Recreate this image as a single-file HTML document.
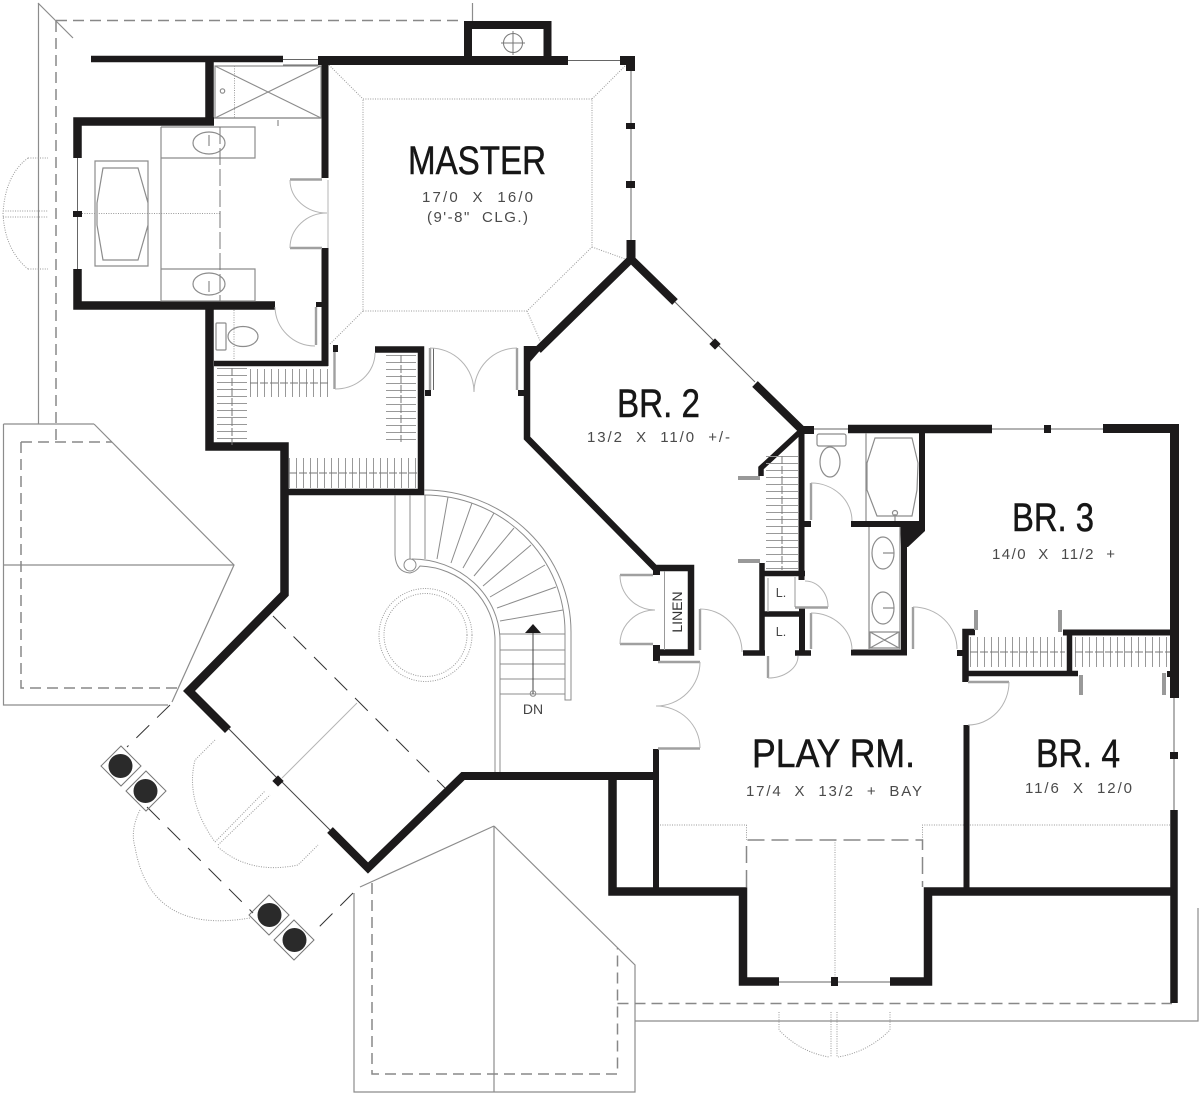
<!DOCTYPE html>
<html><head><meta charset="utf-8"><style>
html,body{margin:0;padding:0;background:#fff}
svg{display:block}
.w{fill:none;stroke:#1c1a1b;stroke-linejoin:miter;stroke-miterlimit:10}
.g{fill:none;stroke:#8c8c8c;stroke-width:1.2}
.d{fill:none;stroke:#888;stroke-width:1.5;stroke-dasharray:11 6}
.t{fill:none;stroke:#666;stroke-width:1}
.o{fill:none;stroke:#999;stroke-width:1;stroke-dasharray:1 1.4}
.a{fill:none;stroke:#b4b4b4;stroke-width:1}
.s{fill:none;stroke:#a0a0a0;stroke-width:2.4}
.h{fill:none;stroke:#999;stroke-dasharray:1 6}
.r{fill:none;stroke:#777;stroke-width:1;stroke-dasharray:8 2}
.k{fill:#1c1a1b}
text{font-family:"Liberation Sans",sans-serif}
.n{font-size:40px;fill:#161616;stroke:#161616;stroke-width:.5}
.u{font-size:15px;fill:#4a4a4a}
</style></head><body>
<svg width="1200" height="1095" viewBox="0 0 1200 1095" xmlns="http://www.w3.org/2000/svg">
<!-- roofs -->
<path class="g" d="M38.500 3V424M38 3L73 38M472.500 3V21"/>
<path class="d" d="M56 20.500H464M56 21V442"/>
<path class="g" d="M3.500 565H234M94 424L234 565L172 702M3.500 424H94M3.500 424V705H168"/>
<path class="d" d="M21 442H112M21 442V688H178"/>
<path class="g" d="M494 826L360 887M494 826L635 965V1092H354V893M494 826V1092M635 1021H1198V908"/>
<path class="d" d="M372 883V1074H617.500V948M617.500 1003.500H1172"/>
<!-- bay window projection -->
<path class="d" style="stroke-dasharray:17 7" d="M746.500 887V840H922.500V887"/>
<path class="o" d="M660 825H746.500V840M922.500 840V825H1170M835 840V977M779 1012V1030Q800 1052 829 1057M890 1012V1030Q868 1052 838 1057M831 1012V1057M837 1012V1057"/>
<!-- portico dashes -->
<path class="t" style="stroke:#333;stroke-dasharray:18 11" d="M273 616L445 788M147 807L253 913"/>
<path class="t" style="stroke:#333;stroke-dasharray:18 11" d="M170 705L127 747M353 893L313 933"/>
<path class="a" d="M357 703L282 778"/>
<path class="o" d="M215 740L195 760Q185 800 215 842M218 847Q250 875 298 865L318 845M215 842L265 791M218 845L270 795M140 810Q130 830 135 847Q150 935 250 918"/>
<path class="t" d="M227 727L276 777M231 731L280 781M281 781L327 827M285 785L331 831" style="stroke:#444"/>
<rect class="k" x="274" y="777" width="8" height="8" transform="rotate(45 278 781)"/>
<!-- columns -->
<g>
<g fill="none" stroke="#777"><path d="M121 746L141 766L121 786L101 766Z"/><path d="M146 771L166 791L146 811L126 791Z"/><path d="M269 895L289 915L269 935L249 915Z"/><path d="M294 920L314 940L294 960L274 940Z"/></g>
<circle fill="#2a2a2a" cx="120.500" cy="766" r="12"/><circle fill="#2a2a2a" cx="145.500" cy="791" r="12"/><circle fill="#2a2a2a" cx="269.500" cy="915" r="12"/><circle fill="#2a2a2a" cx="294.500" cy="940" r="12"/>
</g>
<!-- master ceiling -->
<path class="o" d="M363 99H592V247L527 311H363ZM329 65L363 99M625 66L592 99M592 247L628 260M527 311L542 345M363 311L330 344"/>
<!-- window thin lines -->
<path class="t" d="M283 59.500H318M283 65H318M568 60.500H620M631 71V240M675 302L755 382M814 429H848M992 429H1103M1174 698V810M77.500 158V269M779 982H890"/>
<path class="k" d="M620 56H635V71H626V65H620ZM626 123H635V129H626ZM626 181H635V188H626ZM1044 425H1051V433H1044ZM1170 752H1178V759H1170ZM73 211H82V217H73ZM831 977H838V986H831Z"/>
<rect class="k" x="711" y="340" width="8" height="8" transform="rotate(45 715 344)"/>
<!-- walls -->
<path class="w" stroke-width="6.500" d="M91 59H283"/>
<path class="w" stroke-width="9" d="M318 60.500H568"/>
<path class="w" stroke-width="8" d="M468 56V25H547.500V56"/>
<path class="w" stroke-width="8.500" d="M77.500 158V121.500H214"/>
<path class="w" stroke-width="8.500" d="M209.500 60V125"/>
<path class="w" stroke-width="7" d="M325 60V178M325 248V366"/>
<path class="w" stroke-width="8.500" d="M77.500 269V305.500H275"/>
<path class="w" stroke-width="8.500" d="M209.500 301V446.500H284.500V594L189 691L228 730"/>
<path class="w" stroke-width="5.500" d="M214 363.500H328"/>
<path class="w" stroke-width="6.500" d="M375 349.500H421V492H288"/>
<path class="w" stroke-width="8" d="M330 830L368 868L463 776H655"/>
<path class="w" stroke-width="6" d="M656 749V888"/>
<path class="w" stroke-width="8.500" d="M612.500 776V891.500H743V981.500H779"/>
<path class="w" stroke-width="8.500" d="M890 981.500H928V891.500H1174"/>
<path class="w" stroke-width="6" d="M966.500 725V888"/>
<path class="w" stroke-width="7.500" d="M1174 810V1003"/>
<path class="w" stroke-width="9" d="M1103 428.500H1174.500V698"/>
<path class="w" stroke-width="8.500" d="M848 429H992"/>
<path class="w" stroke-width="6" d="M922 433V528M851 524H925"/>
<path class="w" stroke-width="6" d="M904 545V652.500H851"/>
<path class="k" d="M900 521H925V531L908 547H901Z"/>
<path class="w" stroke-width="9" d="M631 240V262"/>
<path class="w" stroke-width="8" d="M675 302L631 259L538 350"/>
<path class="k" d="M524 346H544L530 362V378H524Z"/>
<path class="w" stroke-width="6.500" d="M527 346V438L655 568H691V652.500H653"/>
<path class="k" d="M653 565H660V575H653ZM653 645H660V661H653ZM425 390H431V396H425ZM518 390H526V396H518ZM333 345H338V352H333ZM316 302H322V307H316ZM804 521H811V527H804ZM957 650H965V656H957ZM1167 671H1171V677H1167Z"/>
<path class="w" stroke-width="8" d="M755 384L802 430H814"/>
<path class="w" stroke-width="5.500" d="M802 430L761 468V476"/>
<path class="w" stroke-width="6" d="M801.500 433V580M802 608V653"/>
<path class="w" stroke-width="5.500" d="M762 563V653M760 573.500H805M762 614H803M743 653H765M795 653H811"/>
<path class="w" stroke-width="6.500" d="M975 632H965.500V682"/>
<path class="w" stroke-width="5.500" d="M968 673.500H1078"/>
<path class="w" stroke-width="5.500" d="M1069.500 632V676"/>
<path class="w" stroke-width="6" d="M1063 632.500H1170"/>
<!-- door stubs -->
<path class="s" d="M290 179.500H322M290 248H322M316 307V345M334.500 352V389M430 348V390M517 348V390M620 575H653M620 644H653M658 662H700M658 748.500H700M700 609V650M811 483V520M811 613V649M913 607V649M968 682H1009M795 607.500H828M768 656V678"/>
<path class="s" style="stroke-width:4;stroke:#999" d="M738 478H760M738 561H760M976 610V630M1060 610V632M1081 675V695M1164 673V695"/>
<path class="t" d="M433.500 348V390"/>
<!-- door arcs -->
<path class="a" d="M290 180A37 33 0 0 0 327 213M290 248A37 35 0 0 1 327 213M328 180V248M275 307A40 40 0 0 0 315 346M335 389A40 36 0 0 0 375 353M430 348A44 44 0 0 1 474 392M517 348A43 44 0 0 0 474 392M620 575A35 35 0 0 0 655 610M620 644A35 34 0 0 1 655 610M700 662A44 44 0 0 1 656 706M656 706A44 42 0 0 1 700 748M700 609A42 43 0 0 1 742 652M811 483A41 38 0 0 1 852 521M811 613A41 37 0 0 1 852 650M913 607A44 42 0 0 1 957 649M805 581A23 26 0 0 1 828 607M768 678A30 22 0 0 0 798 656M1009 682A41 43 0 0 1 968 725"/>
<path class="t" style="stroke:#999" d="M664.500 571V650M795 577V607M768 578V612"/>
<!-- master bath -->
<path class="g" d="M214 118H321M278 120V126M161 127H255V158H161M161 127V301H255V269H161M95 161H148V266H95ZM103 168H138L148 203V225L138 260H103L97 225V203Z"/>
<rect class="g" x="215" y="66" width="106" height="52"/>
<path class="g" d="M215 66L321 118M321 66L215 118"/>
<path class="r" style="stroke-dasharray:17 4" d="M220 127V301"/>
<path class="o" d="M82 213.500H220M234.500 66V118M234 310V360M28 158H48M28 269H48M3 211H48M3 217H48M28 158Q5 175 3 214Q5 250 28 269"/>
<ellipse class="g" cx="209" cy="143" rx="16" ry="11"/><ellipse class="g" cx="209" cy="284" rx="16" ry="11"/>
<path class="g" d="M209 135V146M209 281V292"/>
<circle class="g" cx="222.500" cy="91" r="2.200"/>
<rect class="g" x="216" y="323" width="10" height="27" rx="1"/><ellipse class="g" cx="243" cy="336.500" rx="15" ry="10"/>
<!-- closets -->
<path class="h" stroke-width="30" d="M232 368V445"/>
<path class="h" stroke-width="28" d="M250 383H328"/>
<path class="h" stroke-width="30" d="M401 355V442"/>
<path class="h" stroke-width="30" d="M289 473H417"/>
<path class="h" stroke-width="32" d="M782 456V570"/>
<path class="h" stroke-width="30" d="M970 652H1065"/>
<path class="h" stroke-width="30" d="M1075 652H1170"/>
<path class="r" d="M232 368V445M250 383H328M401 355V442M289 473H417M782 456V570M970 652H1065M1075 652H1170"/>
<!-- BR3 bath -->
<path class="g" d="M866 433V521M875 438H912L918 463L917 490L912 516H877L867 490V463ZM869 527V650M900 527V650M870 632H899V648H870ZM870 632L899 648M899 632L870 648"/>
<circle class="g" cx="895" cy="513" r="2.500"/>
<path class="g" d="M895 514V521"/>
<rect class="g" x="817" y="434" width="29" height="12" rx="2"/><ellipse class="g" cx="830" cy="462" rx="10" ry="15"/>
<ellipse class="g" cx="883" cy="553" rx="11" ry="16"/><ellipse class="g" cx="883" cy="608" rx="11" ry="16"/>
<path class="g" d="M883 553H894M883 608H894"/>
<!-- stairs -->
<g class="g" style="stroke-width:1">
<path d="M424 490A147 142 0 0 1 571 632V700H565V632A141 137 0 0 0 424 495"/>
<path d="M395 495V555Q396 572 410 573Q416 572 420 566A78 75 0 0 1 495 640V772M500 772V640A88 82 0 0 0 412 559M410 495V559M425 495V559"/>
<circle cx="410" cy="565" r="6"/>
<path d="M448 497L437 559M472 503L451 563M494 513L463 568M514 528L474 576M531 545L483 586M545 565L490 597M556 587L497 608M563 610L500 621M500 634H565M500 650H565M500 664H565M500 679H565M500 694H565"/>
<path d="M533 632V694" stroke="#444"/><circle cx="533" cy="693.500" r="2.800"/>
</g>
<path class="k" d="M533 624L541 633H525Z"/>
<g fill="none" stroke="#999" stroke-dasharray="1 1.400"><circle cx="425.500" cy="635" r="46.500"/><circle cx="425.500" cy="635" r="41.500"/></g>
<!-- flue -->
<g fill="none" stroke="#777"><circle cx="513" cy="43" r="9.500"/><path d="M501 43H525M513 31V55"/></g>
<!-- labels -->
<text class="n" x="408" y="174" textLength="138" lengthAdjust="spacingAndGlyphs">MASTER</text>
<text class="u" x="422" y="202" textLength="111" xml:space="preserve">17/0  X  16/0</text>
<text class="u" x="427" y="222" textLength="101" xml:space="preserve">(9'-8"  CLG.)</text>
<text class="n" x="617" y="417" textLength="83" lengthAdjust="spacingAndGlyphs" xml:space="preserve">BR. 2</text>
<text class="u" x="587" y="442" textLength="143" xml:space="preserve">13/2  X  11/0  +/-</text>
<text class="n" x="1012" y="531" textLength="82" lengthAdjust="spacingAndGlyphs" xml:space="preserve">BR. 3</text>
<text class="u" x="992" y="559" textLength="123" xml:space="preserve">14/0  X  11/2  +</text>
<text class="n" x="752" y="767" textLength="163" lengthAdjust="spacingAndGlyphs" xml:space="preserve">PLAY RM.</text>
<text class="u" x="746" y="796" textLength="176" xml:space="preserve">17/4  X  13/2  +  BAY</text>
<text class="n" x="1036" y="767" textLength="84" lengthAdjust="spacingAndGlyphs" xml:space="preserve">BR. 4</text>
<text class="u" x="1025" y="793" textLength="107" xml:space="preserve">11/6  X  12/0</text>
<text x="781" y="597" text-anchor="middle" font-size="12.500" fill="#444">L.</text>
<text x="781" y="636" text-anchor="middle" font-size="12.500" fill="#444">L.</text>
<text x="533" y="714" text-anchor="middle" font-size="14" fill="#444">DN</text>
<text transform="translate(682 612) rotate(-90)" text-anchor="middle" font-size="14" fill="#333">LINEN</text>
</svg>
</body></html>
